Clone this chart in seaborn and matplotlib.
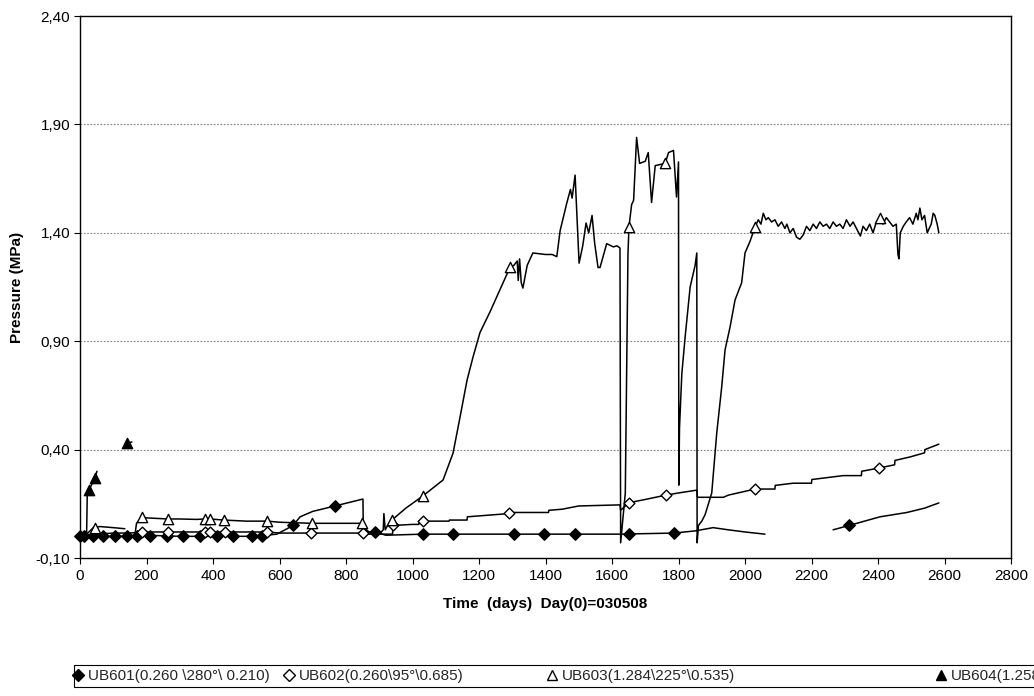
import numpy as np
import pandas as pd
import matplotlib
matplotlib.use("Agg")
import matplotlib.pyplot as plt
from matplotlib.lines import Line2D
from matplotlib.patches import Rectangle
from matplotlib.ticker import FuncFormatter
import seaborn as sns

# ---------------- data ----------------
# UB601 line: (segment, day, pressure)
ub601_seg = [0]*30 + [1]*6
ub601_day = [0, 20, 50, 100, 150, 170, 200, 300, 400, 500, 560, 592, 641, 662, 700, 767, 851, 852,
             870, 887, 920, 1031, 1300, 1620, 1786, 1850, 1904, 1950, 2000, 2060,
             2265, 2313, 2406, 2487, 2540, 2583]
ub601_val = [0.0, -0.005, 0.0, 0.0, 0.0, 0.0, 0.005, 0.0, 0.0, 0.0, 0.005, 0.01, 0.05, 0.09, 0.115, 0.14, 0.172, 0.04,
             0.02, 0.02, 0.005, 0.01, 0.01, 0.01, 0.015, 0.025, 0.04, 0.03, 0.02, 0.01,
             0.03, 0.05, 0.09, 0.11, 0.13, 0.154]
ub601_mk_day = [0, 12, 39, 69, 105, 141, 171, 210, 262, 310, 361, 412, 460, 517, 547,
                641, 767, 887, 1031, 1122, 1305, 1395, 1489, 1651, 1786, 2313]
ub601_mk_val = [0.0, 0.0, 0.0, 0.0, 0.0, 0.0, 0.0, 0.0, 0.0, 0.0, 0.0, 0.0, 0.0, 0.0, 0.0,
                0.05, 0.14, 0.02, 0.01, 0.01, 0.01, 0.01, 0.01, 0.01, 0.015, 0.05]

# UB602 line
ub602_day = [0, 50, 100, 150, 186, 300, 400, 500, 566, 600, 695, 800, 851, 870, 900, 940, 941, 1000,
             1019, 1020, 1110, 1111, 1164, 1165, 1291, 1300, 1409, 1410, 1450, 1500, 1624, 1626,
             1651, 1700, 1762, 1800, 1855, 1857, 1935, 1950, 2030, 2090, 2091, 2145, 2200, 2201,
             2295, 2350, 2351, 2403, 2450, 2451, 2496, 2540, 2541, 2583]
ub602_val = [0.0, 0.01, 0.015, 0.015, 0.02, 0.02, 0.02, 0.02, 0.02, 0.015, 0.015, 0.015, 0.015, 0.01, 0.01, 0.01, 0.05, 0.055,
             0.055, 0.07, 0.07, 0.075, 0.075, 0.09, 0.105, 0.11, 0.11, 0.12, 0.125, 0.14, 0.145, 0.12,
             0.155, 0.17, 0.19, 0.20, 0.213, 0.18, 0.18, 0.19, 0.218, 0.218, 0.235, 0.245, 0.245, 0.262,
             0.28, 0.28, 0.30, 0.315, 0.33, 0.35, 0.366, 0.385, 0.40, 0.425]
ub602_mk_day = [186, 265, 376, 391, 436, 562, 695, 851, 941, 1031, 1291, 1651, 1762, 2030, 2403]
ub602_mk_val = [0.02, 0.02, 0.02, 0.02, 0.02, 0.02, 0.015, 0.015, 0.05, 0.07, 0.107, 0.154, 0.19, 0.218, 0.315]

# UB603 line
ub603_day = [0, 20, 40, 60, 100, 135,
             165, 170, 186, 200, 265, 300, 350, 376, 391, 433, 500, 563, 600, 697, 760, 848, 860, 900,
             912, 914, 918, 925, 938, 980, 1031, 1092, 1122, 1143, 1164, 1182, 1203, 1233, 1263, 1293,
             1305, 1315, 1318, 1322, 1327, 1332, 1345, 1362, 1400, 1420, 1434, 1444, 1464, 1475, 1480,
             1489, 1501, 1512, 1522, 1530, 1540, 1548, 1558, 1564, 1584, 1604, 1615, 1624, 1626, 1640,
             1648, 1651, 1659, 1665, 1674, 1683, 1700, 1709, 1719, 1730, 1760, 1770, 1785, 1794, 1800,
             1801, 1803, 1810, 1820, 1835, 1850, 1855, 1856, 1860, 1870, 1880, 1900, 1915, 1930, 1940,
             1955, 1970, 1990, 2000, 2015, 2030, 2040, 2048, 2055, 2063, 2070, 2080, 2090, 2100, 2110,
             2120, 2126, 2135, 2145, 2155, 2165, 2175, 2185, 2195, 2205, 2215, 2225, 2235, 2245, 2255,
             2265, 2275, 2285, 2295, 2305, 2316, 2325, 2335, 2347, 2355, 2365, 2375, 2385, 2395, 2406,
             2415, 2425, 2435, 2445, 2455, 2460, 2463, 2467, 2476, 2485, 2495, 2505, 2515, 2520, 2526,
             2532, 2540, 2548, 2551, 2560, 2566, 2571, 2578, 2583]
ub603_val = [0.0, 0.01, 0.04, 0.045, 0.04, 0.035,
             0.005, 0.06, 0.09, 0.085, 0.08, 0.08, 0.078, 0.08, 0.08, 0.075, 0.07, 0.07, 0.065, 0.06, 0.06, 0.06, 0.02, 0.01,
             0.03, 0.105, 0.03, 0.05, 0.075, 0.13, 0.186, 0.26, 0.384, 0.55, 0.72, 0.827, 0.94, 1.035, 1.137, 1.24,
             1.25, 1.27, 1.18, 1.28, 1.17, 1.145, 1.25, 1.307, 1.30, 1.30, 1.29, 1.41, 1.537, 1.60, 1.56,
             1.666, 1.26, 1.34, 1.445, 1.40, 1.48, 1.35, 1.24, 1.24, 1.35, 1.335, 1.34, 1.33, -0.03, 0.20,
             1.30, 1.427, 1.53, 1.55, 1.84, 1.72, 1.73, 1.77, 1.54, 1.71, 1.72, 1.77, 1.78, 1.565, 1.727,
             0.236, 0.50, 0.75, 0.92, 1.15, 1.25, 1.307, -0.03, 0.05, 0.07, 0.10, 0.20, 0.476, 0.69, 0.86,
             0.965, 1.09, 1.17, 1.307, 1.36, 1.427, 1.46, 1.44, 1.49, 1.46, 1.47, 1.45, 1.46, 1.43, 1.45,
             1.42, 1.44, 1.40, 1.42, 1.38, 1.37, 1.39, 1.43, 1.41, 1.44, 1.42, 1.45, 1.43, 1.44, 1.42,
             1.45, 1.43, 1.44, 1.42, 1.46, 1.43, 1.45, 1.42, 1.385, 1.43, 1.41, 1.44, 1.40, 1.45, 1.468,
             1.44, 1.47, 1.45, 1.43, 1.44, 1.30, 1.28, 1.40, 1.43, 1.45, 1.47, 1.44, 1.49, 1.46, 1.514,
             1.46, 1.48, 1.40, 1.41, 1.44, 1.49, 1.48, 1.44, 1.40]
ub603_seg = [0]*6 + [1]*(len(ub603_day) - 6)
ub603_mk_day = [45, 186, 265, 376, 391, 433, 563, 697, 848, 938, 1031, 1293, 1651, 1760, 2030, 2406]
ub603_mk_val = [0.04, 0.09, 0.08, 0.08, 0.08, 0.075, 0.07, 0.06, 0.06, 0.075, 0.186, 1.24, 1.427, 1.72, 1.427, 1.468]

# UB604 line
ub604_seg = [0, 0, 0, 0, 0, 0, 0, 1, 1]
ub604_day = [0, 15, 20, 22, 27, 45, 51, 141, 156]
ub604_val = [0.0, 0.0, 0.02, 0.21, 0.213, 0.27, 0.30, 0.43, 0.435]
ub604_mk_day = [27, 45, 141]
ub604_mk_val = [0.213, 0.27, 0.43]

labels = ["UB601(0.260 \\280°\\ 0.210)", "UB602(0.260\\95°\\0.685)",
          "UB603(1.284\\225°\\0.535)", "UB604(1.258\\45°\\0.210)"]
x_ticks = list(range(0, 2801, 200))
y_ticks = [-0.10, 0.40, 0.90, 1.40, 1.90, 2.40]
x_label = "Time  (days)  Day(0)=030508"
y_label = "Pressure (MPa)"

# ---------------- styling ----------------
sns.set_theme(style="white")
plt.rcParams["font.family"] = ["Liberation Sans", "DejaVu Sans"]

fig = plt.figure(figsize=(10.34, 6.96), dpi=100)
W, H = 1034, 696
ax = fig.add_axes([80 / W, 1 - 558 / H, (1011 - 80) / W, (558 - 16) / H])

def seg_df(seg, day, val):
    return pd.DataFrame({"seg": seg, "day": day, "p": val})

line_kw = dict(x="day", y="p", units="seg", estimator=None, sort=False,
               color="black", linewidth=1.1, ax=ax, legend=False)
sns.lineplot(data=seg_df(ub601_seg, ub601_day, ub601_val), **line_kw)
sns.lineplot(data=seg_df([0]*len(ub602_day), ub602_day, ub602_val), **line_kw)
sns.lineplot(data=seg_df(ub603_seg, ub603_day, ub603_val), **line_kw)
sns.lineplot(data=seg_df(ub604_seg, ub604_day, ub604_val), **line_kw)

sc_kw = dict(ax=ax, edgecolor="black", linewidth=1.0, zorder=4, clip_on=False, legend=False)
sns.scatterplot(x=ub601_mk_day, y=ub601_mk_val, marker="D", s=34, color="black", **sc_kw)
sns.scatterplot(x=ub602_mk_day, y=ub602_mk_val, marker="D", s=30, color="white", **sc_kw)
sns.scatterplot(x=ub603_mk_day, y=ub603_mk_val, marker="^", s=55, color="white", **sc_kw)
sns.scatterplot(x=ub604_mk_day, y=ub604_mk_val, marker="^", s=55, color="black", **sc_kw)

ax.set_xlim(0, 2800)
ax.set_ylim(-0.10, 2.40)
ax.set_xticks(x_ticks)
ax.set_yticks(y_ticks)
ax.yaxis.set_major_formatter(FuncFormatter(lambda v, p: f"{v:.2f}".replace(".", ",")))
ax.tick_params(axis="both", direction="out", length=4, width=0.8, color="black",
               labelsize=11, labelcolor="black", bottom=True, left=True)
ax.tick_params(axis="x", pad=4)
ax.tick_params(axis="y", pad=3)
for s in ax.spines.values():
    s.set_color("black")
    s.set_linewidth(1.0)
    s.set_visible(True)
for yv in y_ticks[1:-1]:
    ax.axhline(yv, color="#808080", linestyle=(0, (1.5, 1.5)), linewidth=0.8, zorder=0)
ax.grid(False)

ax.set_xlabel(x_label, fontsize=11, fontweight="bold", color="black")
ax.set_ylabel(y_label, fontsize=11, fontweight="bold", color="black")
ax.xaxis.set_label_coords(0.5, -(597 - 558) / 542)
ax.yaxis.set_label_coords(-(80 - 24) / 931, 0.5)

# ---------------- legend ----------------
fig.patches.append(Rectangle((74 / W, 1 - 687 / H), (1040 - 74) / W, 22 / H,
                             transform=fig.transFigure, facecolor="white",
                             edgecolor="black", linewidth=0.8))
handles = [
    Line2D([], [], marker="D", linestyle="none", color="black", markerfacecolor="black", markersize=6),
    Line2D([], [], marker="D", linestyle="none", color="black", markerfacecolor="white", markersize=6),
    Line2D([], [], marker="^", linestyle="none", color="black", markerfacecolor="white", markersize=7.5),
    Line2D([], [], marker="^", linestyle="none", color="black", markerfacecolor="black", markersize=7.5),
]
x_starts = [72, 283, 546, 935]
for h, lab, xs in zip(handles, labels, x_starts):
    fig.legend([h], [lab], loc="center left", bbox_to_anchor=(xs / W, 1 - 676 / H),
               frameon=False, fontsize=11, handlelength=0.8, handletextpad=0.25,
               borderpad=0, borderaxespad=0)

fig.savefig("out.png", dpi=100)
